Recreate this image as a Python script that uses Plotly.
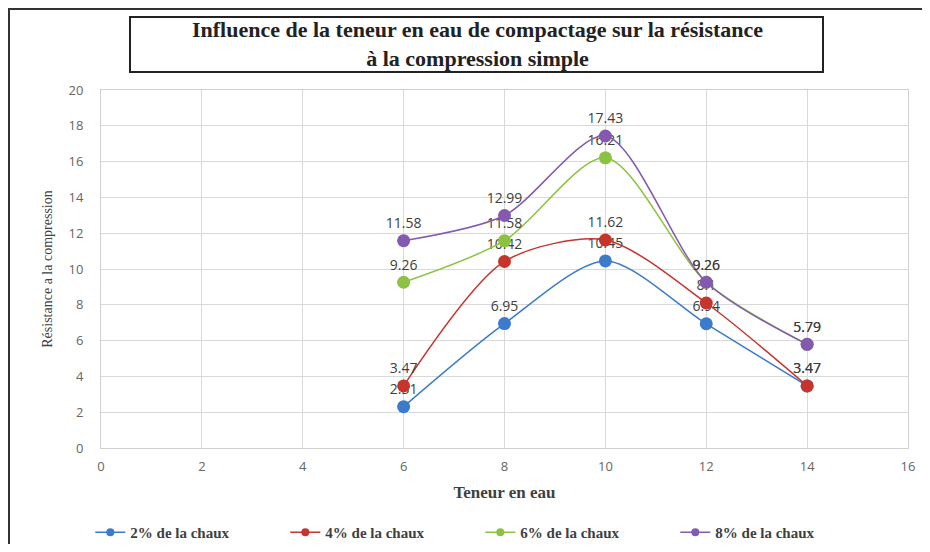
import plotly.graph_objects as go

# teneur en eau (%)
teneur = [6, 8, 10, 12, 14]

chaux_2 = [2.31, 6.95, 10.45, 6.94, 3.47]
chaux_4 = [3.47, 10.42, 11.62, 8.1, 3.47]
chaux_6 = [9.26, 11.58, 16.21, 9.26, 5.79]
chaux_8 = [11.58, 12.99, 17.43, 9.26, 5.79]

noms = ["2% de la chaux", "4% de la chaux", "6% de la chaux", "8% de la chaux"]
couleurs = ["#3a7bcc", "#c6342c", "#8cc241", "#8459b0"]

serif = "Liberation Serif, Times New Roman, serif"
sans = "Open Sans, Liberation Sans, sans-serif"

fig = go.Figure()

for nom, serie, couleur in zip(noms, [chaux_2, chaux_4, chaux_6, chaux_8], couleurs):
    fig.add_trace(
        go.Scatter(
            x=teneur,
            y=serie,
            name=nom,
            mode="lines+markers+text",
            line=dict(color=couleur, width=1.5, shape="spline", smoothing=0.8),
            marker=dict(color=couleur, size=13),
            text=[f"{v:g}" for v in serie],
            textposition="top center",
            textfont=dict(family=sans, size=14, color="#404040"),
            cliponaxis=False,
            showlegend=False,
        )
    )
    # entrée de légende avec un petit marqueur
    fig.add_trace(
        go.Scatter(
            x=[None],
            y=[None],
            name=nom,
            mode="lines+markers",
            line=dict(color=couleur, width=1.5),
            marker=dict(color=couleur, size=8),
        )
    )

# la page a une marge de 8 px : figure 914x536, zone de tracé 807x358
fig.update_layout(
    width=914,
    height=536,
    margin=dict(l=93, r=14, t=82, b=96, autoexpand=False),
    paper_bgcolor="white",
    plot_bgcolor="white",
    showlegend=True,
    legend=dict(
        orientation="h",
        x=0.47,
        xanchor="center",
        y=-0.19,
        yanchor="top",
        font=dict(family=serif, size=15, color="#404040", weight="bold"),
        entrywidth=150,
        tracegroupgap=0,
    ),
    xaxis=dict(
        range=[0, 16],
        dtick=2,
        automargin=False,
        showgrid=True,
        gridcolor="#d9d9d9",
        zeroline=False,
        showline=True,
        linecolor="#d0d0d0",
        mirror=True,
        ticks="",
        ticklabelstandoff=6,
        tickfont=dict(family=sans, size=13, color="#666666"),
        title=dict(text="<b>Teneur en eau</b>",
                   font=dict(family=serif, size=17, color="#404040"), standoff=12),
    ),
    yaxis=dict(
        range=[0, 20],
        dtick=2,
        automargin=False,
        showgrid=True,
        gridcolor="#d9d9d9",
        zeroline=False,
        showline=True,
        linecolor="#d0d0d0",
        mirror=True,
        ticks="",
        ticklabelstandoff=14,
        tickfont=dict(family=sans, size=13, color="#666666"),
        title=dict(text="Résistance a la compression",
                   font=dict(family=serif, size=14, color="#404040"), standoff=12),
    ),
)

# cadre extérieur
fig.add_shape(type="rect", xref="paper", yref="paper",
              x0=(9 - 101) / 807, x1=(960 - 101) / 807,
              y0=-(580 - 448) / 358, y1=1 + (90 - 9) / 358,
              line=dict(color="#333333", width=2), layer="below")

# titre encadré
fig.add_shape(type="rect", xref="paper", yref="paper",
              x0=(130 - 101) / 807, x1=(823 - 101) / 807,
              y0=1 + (90 - 72) / 358, y1=1 + (90 - 17) / 358,
              line=dict(color="#222222", width=2), fillcolor="white")
fig.add_annotation(
    xref="paper", yref="paper",
    x=(477 - 101) / 807, y=1 + (90 - 44) / 358,
    xanchor="center", yanchor="middle",
    text="<b>Influence de la teneur en eau de compactage sur la résistance<br>à la compression simple</b>",
    showarrow=False,
    font=dict(family=serif, size=22, color="#222222"),
)

fig.write_html("out.html")
